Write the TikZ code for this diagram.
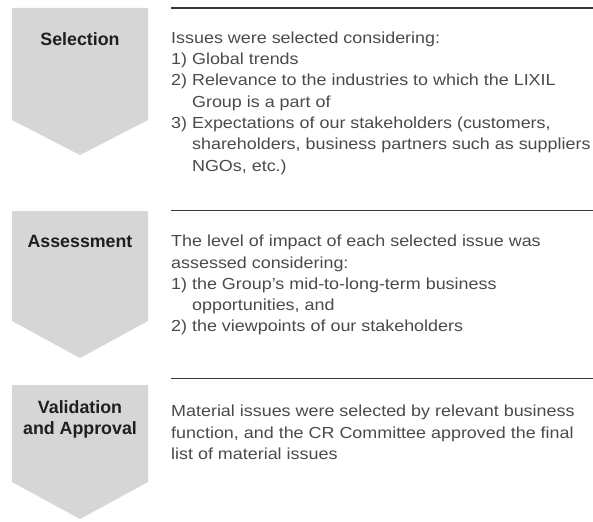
\documentclass[tikz,border=0pt]{standalone}
\usepackage{fontspec}
\setmainfont{Liberation Sans}
\newfontfamily\bodyfont[FakeStretch=1.12]{Liberation Sans}
\definecolor{arrowgray}{HTML}{D6D6D6}
\definecolor{textgray}{HTML}{4A4A4A}
\definecolor{rulegray}{HTML}{383838}

\begin{document}
\begin{tikzpicture}[x=1pt,y=-1pt,
    stagename/.style={anchor=base, align=center, inner sep=0pt, text=black!88,
      font=\bfseries\fontsize{17.8}{20.8}\selectfont},
    bodytext/.style={anchor=base west, align=left, inner sep=0pt, text=textgray,
      font=\bodyfont\fontsize{16}{21.3}\selectfont}]
    \useasboundingbox (0,0) rectangle (593,521);

    \fill [arrowgray] (12,8) -- (148,8) -- (148,120) -- (80,155) -- (12,120) -- cycle;
    \fill [arrowgray] (12,211) -- (148,211) -- (148,321) -- (80,358) -- (12,321) -- cycle;
    \fill [arrowgray] (12,385) -- (148,385) -- (148,482) -- (80,519) -- (12,482) -- cycle;

    \draw [rulegray, line width=1.2pt] (171,8) -- (593,8);
    \draw [rulegray, line width=1.2pt] (171,210.3) -- (593,210.3);
    \draw [rulegray, line width=1.2pt] (171,378.3) -- (593,378.3);

    % multi-line nodes sit on the baseline of their last line
    \node [stagename] (selection) at (80,45.7) {Selection};
    \node [stagename] (assessment) at (80,247.7) {Assessment};
    \node [stagename] (validation) at (80,434) {Validation\\and Approval};

    \node [bodytext] (selectiontext) at (171,171.1) {Issues were selected considering:\\
      1) Global trends\\
      2) Relevance to the industries to which the LIXIL\\
      \phantom{2) }Group is a part of\\
      3) Expectations of our stakeholders (customers,\\
      \phantom{3) }shareholders, business partners such as suppliers\\
      \phantom{3) }NGOs, etc.)};
    \node [bodytext] (assessmenttext) at (171,331.9) {The level of impact of each selected issue was\\
      assessed considering:\\
      1) the Group’s mid-to-long-term business\\
      \phantom{1) }opportunities, and\\
      2) the viewpoints of our stakeholders};
    \node [bodytext] (validationtext) at (171,459.3) {Material issues were selected by relevant business\\
      function, and the CR Committee approved the final\\
      list of material issues};
  \end{tikzpicture}
\end{document}
